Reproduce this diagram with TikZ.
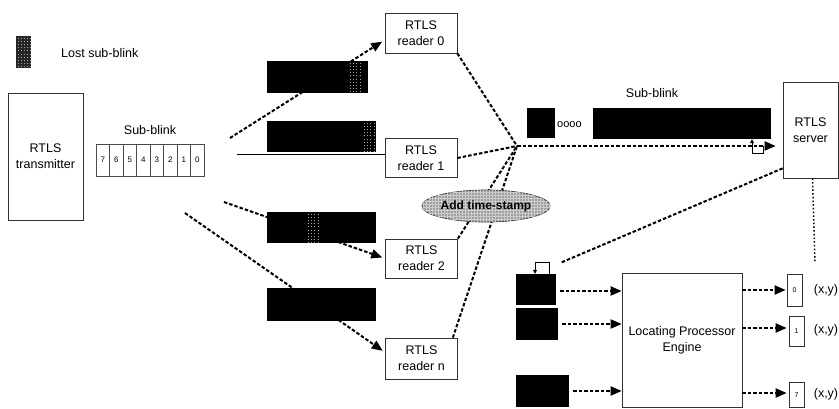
\documentclass[tikz,border=0pt]{standalone}
\usepackage{fontspec}
\setmainfont{Liberation Sans}
\usetikzlibrary{arrows.meta,shapes.geometric,patterns,calc}
\tikzset{
 box/.style={draw=black!80, line width=0.7pt, fill=white, align=center, inner sep=0pt, font=\fontsize{12.5}{16}\selectfont},
 blk/.style={fill=black, draw=none, inner sep=0pt},
 dl/.style={line width=2pt, dash pattern=on 3.5pt off 2pt},
 dla/.style={dl, -{Triangle[length=11pt,width=9pt]}},
 fine/.style={line width=1.5pt, dash pattern=on 1.5pt off 2.2pt},
 tline/.style={line width=0.8pt},
 lbl/.style={font=\fontsize{12.5}{15}\selectfont, inner sep=0pt},
 cell/.style={draw=black!70, line width=0.6pt, minimum width=13.5pt, minimum height=32pt, inner sep=0pt, font=\fontsize{8}{9}\selectfont},
 obox/.style={draw=black!80, line width=0.7pt, minimum width=15pt, inner sep=0pt, font=\fontsize{7}{8}\selectfont},
}
\newcommand\lostdots[4]{%
  \foreach \ii in {0,...,#3}{\foreach \jj in {0,...,#4}{%
    \fill[black!35] ({#1+\ii*3.2},{#2+\jj*3.1}) rectangle +(1,1);}}}
\begin{document}
\begin{tikzpicture}[x=1pt,y=-1pt]
\useasboundingbox (0,0) rectangle (839,408);

% legend
\node[fill=black!85, minimum width=15pt, minimum height=32pt, inner sep=0pt] (icon) at (23.5,52) {};
\lostdots{17.5}{38}{4}{9}
\node[lbl, anchor=west] (lostlbl) at (61,53) {Lost sub-blink};

% transmitter
\node[box, minimum width=75pt, minimum height=127pt] (tx) at (45.5,156.5) {RTLS\\transmitter};
\node[lbl] (sblbl) at (150,130) {Sub-blink};
\foreach \d [count=\k from 0] in {7,6,5,4,3,2,1,0}
  \node[cell] (cell\d) at ({102.75+\k*13.5},160) {\d};

% readers
\node[box, minimum width=72pt, minimum height=40pt] (r0) at (421,33) {RTLS\\reader 0};
\node[box, minimum width=72pt, minimum height=39pt] (r1) at (421,158) {RTLS\\reader 1};
\node[box, minimum width=72pt, minimum height=39pt] (r2) at (421.5,258.5) {RTLS\\reader 2};
\node[box, minimum width=72pt, minimum height=41pt] (rn) at (421.5,358.5) {RTLS\\reader n};

% transmission lines
\coordinate (s0) at (230,138);
\coordinate (s1) at (237,154);
\coordinate (s2) at (224,202);
\coordinate (s3) at (185,213);
\draw[dla, shorten >=3pt] (s0) -- ([yshift=-7pt]r0.west);
\draw[tline] (s1) -- (s1 -| r1.west);
\draw[dla, shorten >=3pt] (s2) -- (r2.west);
\draw[dla, shorten >=3pt] (s3) -- ([yshift=6pt]rn.west);

% sub-blink bars
\node[blk, minimum width=101pt, minimum height=32pt] (bar0) at (317.5,77) {};
\lostdots{350}{63}{3}{9}
\node[blk, minimum width=109pt, minimum height=31pt] (bar1) at (321.5,136.5) {};
\lostdots{364}{123}{3}{9}
\node[blk, minimum width=109pt, minimum height=31pt] (bar2) at (321.5,227.5) {};
\lostdots{308}{214}{3}{9}
\node[blk, minimum width=109pt, minimum height=33pt] (bar3) at (321.5,304.5) {};

% collection to hub
\coordinate (hub) at (517,146);
\draw[dl] (r0.south east) -- (hub);
\draw[dl] (r1.east) -- (hub);
\draw[dl] (r2.north east) -- (hub);
\draw[dl] ([xshift=-5pt]rn.north east) -- (hub);
\node[ellipse, minimum width=106pt, minimum height=32pt, inner sep=0pt, draw=black!80, line width=0.7pt,
      fill=gray!75, postaction={pattern=grid, pattern color=gray!40},
      font=\bfseries\fontsize{12}{14}\selectfont] (stamp) at (486,206) {Add time-stamp};

% server
\node[box, minimum width=55pt, minimum height=96pt] (server) at (810.5,130) {RTLS\\server};
\node[lbl] (sblbl2) at (652,93) {Sub-blink};
\node[blk, minimum width=28pt, minimum height=30pt] (sq) at (541,123) {};
\node[lbl, font=\fontsize{11}{13}\selectfont, anchor=west] (oooo) at (557,125) {oooo};
\node[blk, minimum width=178pt, minimum height=31pt] (lbar) at (682,123.5) {};
\draw[dla, shorten >=7pt] (hub) -- (hub -| server.west);
\coordinate (lpa) at (763,146);
\coordinate (lpb) at (752,153);
\draw[tline, -{Triangle[length=4pt,width=4pt]}] (lpa) |- (lpb) -- (lpb |- lbar.south);

% locating processor
\node[box, minimum width=120pt, minimum height=134pt] (lpe) at (682,340) {Locating Processor\\Engine};
\node[blk, minimum width=40pt, minimum height=31pt] (ba) at (536,289.5) {};
\node[blk, minimum width=42pt, minimum height=32pt] (bb) at (537,324) {};
\node[blk, minimum width=53pt, minimum height=32pt] (bc) at (542.5,391) {};
\coordinate (se) at (560,263);
\draw[dl] ([yshift=10pt]server.south west) -- (se);
\coordinate (vend) at (815,263);
\draw[fine] ([xshift=2pt]server.south) -- (vend);
\coordinate (la) at (549,262);
\coordinate (lb) at (535,262);
\draw[tline, -{Triangle[length=4pt,width=4pt]}] (ba.north -| la) -- (la) -- (lb) -- (ba.north -| lb);

\draw[dla, shorten <=4pt] ([yshift=-1.5pt]ba.east) -- ([yshift=-1.5pt]ba.east -| lpe.west);
\draw[dla, shorten <=4pt] (bb.east) -- (bb.east -| lpe.west);
\draw[dla, shorten <=4pt] (bc.east) -- (bc.east -| lpe.west);

% outputs
\node[obox, minimum height=32pt] (o0) at (794.5,290) {0};
\node[obox, minimum height=30pt] (o1) at (796.5,331) {1};
\node[obox, minimum height=25pt] (o7) at (796.5,395) {7};
\draw[dla, shorten >=1pt] (o0.west -| lpe.east) -- (o0.west);
\draw[dla, shorten >=2pt] ([yshift=3pt]o1.west -| lpe.east) -- ([yshift=3pt]o1.west);
\draw[dla, shorten >=2pt] ([yshift=2pt]o7.west -| lpe.east) -- ([yshift=2pt]o7.west);
\node[lbl] (xy0) at (826,290) {(x,y)};
\node[lbl] (xy1) at (826,330) {(x,y)};
\node[lbl] (xy7) at (826,394) {(x,y)};
\end{tikzpicture}
\end{document}
